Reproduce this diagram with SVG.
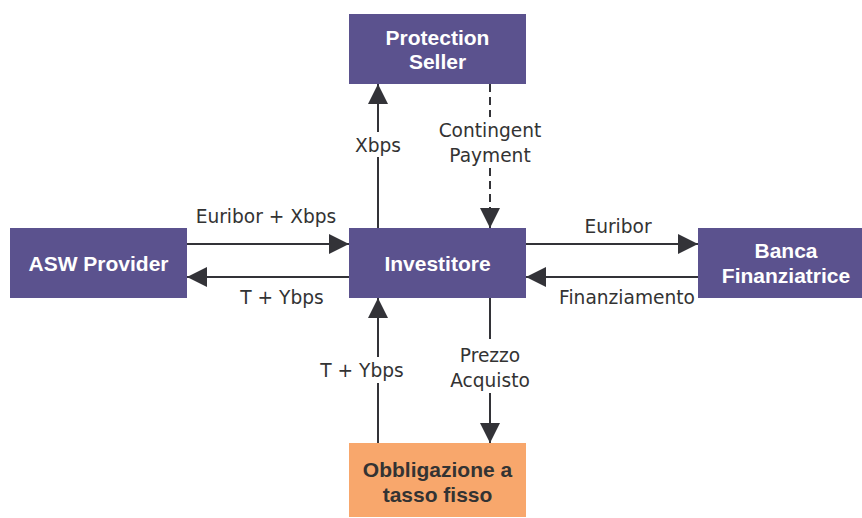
<svg xmlns="http://www.w3.org/2000/svg" width="862" height="518" viewBox="0 0 862 518">
<style>
.box{fill:#5B528E}
.bond{fill:#F8A76C}
.bt{font-family:"Liberation Sans",Arial,sans-serif;font-weight:bold;font-size:21px;fill:#FFFFFF;text-anchor:middle}
.bt2{font-family:"Liberation Sans",Arial,sans-serif;font-weight:bold;font-size:21px;fill:#333333;text-anchor:middle}
.lb{font-family:"DejaVu Sans",Verdana,sans-serif;font-size:18.6px;fill:#333333;text-anchor:middle}
.ln{stroke:#333338;stroke-width:2;fill:none}
.dash{stroke-dasharray:8 5}
</style>
<defs>
<marker id="ah" markerUnits="userSpaceOnUse" markerWidth="20" markerHeight="20" refX="20" refY="10" orient="auto" viewBox="0 0 20 20">
<path d="M0,0 L20,10 L0,20 z" fill="#333338"/>
</marker>
</defs>
<rect width="862" height="518" fill="#FFFFFF"/>
<g id="connectors">
<line class="ln" x1="187" y1="244" x2="349" y2="244" marker-end="url(#ah)"/>
<line class="ln" x1="349" y1="277" x2="187" y2="277" marker-end="url(#ah)"/>
<line class="ln" x1="526" y1="244" x2="698" y2="244" marker-end="url(#ah)"/>
<line class="ln" x1="698" y1="277" x2="526" y2="277" marker-end="url(#ah)"/>
<line class="ln" x1="378" y1="228" x2="378" y2="157"/>
<line class="ln" x1="378" y1="132" x2="378" y2="84" marker-end="url(#ah)"/>
<line class="ln dash" x1="490" y1="84" x2="490" y2="117"/>
<line class="ln dash" x1="490" y1="168" x2="490" y2="228" marker-end="url(#ah)"/>
<line class="ln" x1="378" y1="443" x2="378" y2="383"/>
<line class="ln" x1="378" y1="357" x2="378" y2="298" marker-end="url(#ah)"/>
<line class="ln" x1="490" y1="298" x2="490" y2="339"/>
<line class="ln" x1="490" y1="393" x2="490" y2="443" marker-end="url(#ah)"/>
<text class="lb" x="266" y="223">Euribor + Xbps</text>
<text class="lb" x="282" y="304">T + Ybps</text>
<text class="lb" x="618" y="233">Euribor</text>
<text class="lb" x="627" y="304">Finanziamento</text>
<text class="lb" x="378" y="152">Xbps</text>
<text class="lb" x="490" y="137">Contingent</text>
<text class="lb" x="490" y="162">Payment</text>
<text class="lb" x="362" y="377">T + Ybps</text>
<text class="lb" x="490" y="362">Prezzo</text>
<text class="lb" x="490" y="387">Acquisto</text>
</g>
<g id="protection-seller">
<rect class="box" x="349" y="14" width="177" height="70"/>
<text class="bt" x="437.5" y="45">Protection</text>
<text class="bt" x="437.5" y="69">Seller</text>
</g>
<g id="asw-provider">
<rect class="box" x="10" y="228" width="177" height="70"/>
<text class="bt" x="98.5" y="271">ASW Provider</text>
</g>
<g id="investitore">
<rect class="box" x="349" y="228" width="177" height="70"/>
<text class="bt" x="437.5" y="271">Investitore</text>
</g>
<g id="banca-finanziatrice">
<rect class="box" x="698" y="228" width="177" height="70"/>
<text class="bt" x="786" y="258">Banca</text>
<text class="bt" x="786" y="283">Finanziatrice</text>
</g>
<g id="obbligazione">
<rect class="bond" x="349" y="443" width="177" height="74"/>
<text class="bt2" x="437.5" y="477">Obbligazione a</text>
<text class="bt2" x="437.5" y="502">tasso fisso</text>
</g>
</svg>
